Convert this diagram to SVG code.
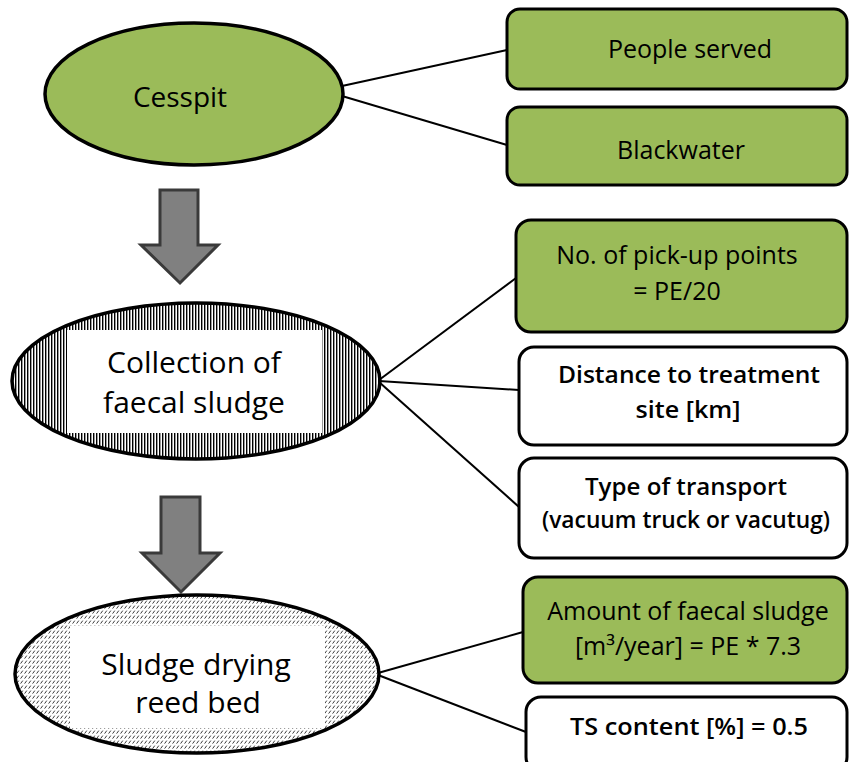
<svg xmlns="http://www.w3.org/2000/svg" width="850" height="762" viewBox="0 0 850 762">
  <style>
    text { font-family: "Open Sans", "Noto Sans", "Liberation Sans", sans-serif; fill: #000; text-anchor: middle; }
    .box { stroke: #000; stroke-width: 3; }
    .green { fill: #9BBB59; }
    .white { fill: #fff; }
    .ell { stroke: #000; stroke-width: 3.5; }
    .conn line { stroke: #000; stroke-width: 2; }
    .arrow { fill: #808080; stroke: #3a3a3a; stroke-width: 3; stroke-linejoin: miter; }
    .b { font-weight: 600; }
  </style>
  <defs>
    <pattern id="vstripes" width="3" height="10" patternUnits="userSpaceOnUse">
      <rect x="0" y="0" width="3" height="10" fill="#fff"/>
      <rect x="0" y="0" width="1.4" height="10" fill="#000"/>
    </pattern>
    <pattern id="hatch" width="4" height="5" patternUnits="userSpaceOnUse">
      <rect x="0" y="0" width="4" height="5" fill="#fff"/>
      <line x1="0.6" y1="3.6" x2="2.8" y2="0.6" stroke="#222" stroke-width="0.9"/>
    </pattern>
    <clipPath id="clipColl"><ellipse cx="196" cy="381" rx="184" ry="78"/></clipPath>
    <clipPath id="clipSl"><ellipse cx="197" cy="674" rx="182" ry="79"/></clipPath>
  </defs>

  <g id="connectors" class="conn">
    <line x1="342" y1="86" x2="507" y2="50"/>
    <line x1="342" y1="96" x2="507" y2="145"/>
    <line x1="379" y1="380" x2="516" y2="278"/>
    <line x1="379" y1="381" x2="519" y2="390"/>
    <line x1="379" y1="382" x2="519" y2="507"/>
    <line x1="378" y1="673" x2="523" y2="632"/>
    <line x1="378" y1="675" x2="526" y2="732"/>
  </g>

  <g id="arrow1"><polygon class="arrow" points="160,190 198,190 198,245 218,245 180,283 141,245 160,245"/></g>
  <g id="arrow2"><polygon class="arrow" points="161,497 200,497 200,553 220,553 181,592 142,553 161,553"/></g>

  <g id="cesspit">
    <ellipse class="ell green" cx="194" cy="94" rx="149" ry="71"/>
    <text x="180" y="107" font-size="28">Cesspit</text>
  </g>

  <g id="collection">
    <ellipse cx="196" cy="381" rx="184" ry="78" fill="url(#vstripes)"/>
    <rect x="67" y="330" width="255" height="103" fill="#fff" clip-path="url(#clipColl)"/>
    <ellipse class="ell" cx="196" cy="381" rx="184" ry="78" fill="none"/>
    <text x="194" y="373" font-size="30">Collection of</text>
    <text x="194" y="413" font-size="30">faecal sludge</text>
  </g>

  <g id="sludge">
    <ellipse cx="197" cy="674" rx="182" ry="79" fill="url(#hatch)"/>
    <rect x="70" y="626" width="255" height="102" fill="#fff" clip-path="url(#clipSl)"/>
    <ellipse class="ell" cx="197" cy="674" rx="182" ry="79" fill="none"/>
    <text x="196" y="675" font-size="30">Sludge drying</text>
    <text x="198" y="713" font-size="30">reed bed</text>
  </g>

  <g id="people-served">
    <rect class="box green" x="507" y="9" width="340" height="80" rx="13"/>
    <text x="690" y="58" font-size="25">People served</text>
  </g>
  <g id="blackwater">
    <rect class="box green" x="507" y="107" width="340" height="78" rx="13"/>
    <text x="681" y="159" font-size="25">Blackwater</text>
  </g>
  <g id="pickup">
    <rect class="box green" x="516" y="220" width="331" height="112" rx="15"/>
    <text x="677" y="264" font-size="25">No. of pick-up points</text>
    <text x="677" y="300" font-size="25">= PE/20</text>
  </g>
  <g id="distance">
    <rect class="box white" x="519" y="347" width="328" height="98" rx="15"/>
    <text class="b" x="689" y="383" font-size="24" textLength="262" lengthAdjust="spacingAndGlyphs">Distance to treatment</text>
    <text class="b" x="688" y="418" font-size="24" textLength="105" lengthAdjust="spacingAndGlyphs">site [km]</text>
  </g>
  <g id="transport">
    <rect class="box white" x="519" y="458" width="328" height="100" rx="15"/>
    <text class="b" x="686" y="495" font-size="24" textLength="202" lengthAdjust="spacingAndGlyphs">Type of transport</text>
    <text class="b" x="686" y="528" font-size="24" textLength="288" lengthAdjust="spacingAndGlyphs">(vacuum truck or vacutug)</text>
  </g>
  <g id="amount">
    <rect class="box green" x="523" y="577" width="324" height="106" rx="15"/>
    <text x="688" y="620" font-size="25">Amount of faecal sludge</text>
    <text x="688" y="655" font-size="25">[m³/year] = PE * 7.3</text>
  </g>
  <g id="ts">
    <rect class="box white" x="526" y="697" width="321" height="75" rx="15"/>
    <text class="b" x="689" y="735" font-size="24" textLength="238" lengthAdjust="spacingAndGlyphs">TS content [%] = 0.5</text>
  </g>
</svg>
